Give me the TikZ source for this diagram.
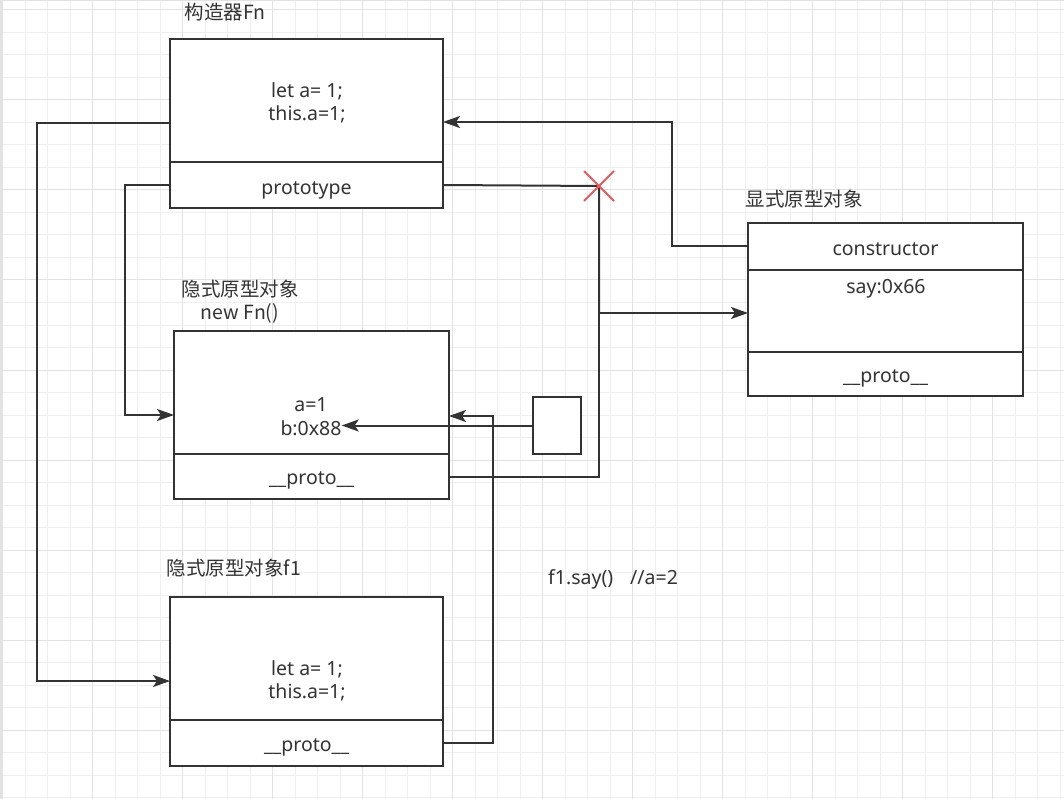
\documentclass[tikz,border=0pt]{standalone}
\usepackage{fontspec}
\setmainfont{Noto Sans}
\newfontfamily\cjk{Noto Sans CJK SC}
\usetikzlibrary{arrows.meta}
\definecolor{linec}{HTML}{333333}
\definecolor{gminorc}{HTML}{EFEFEF}
\definecolor{gmajorc}{HTML}{E2E2E2}
\definecolor{redx}{HTML}{EA5A5A}
\begin{document}
\begin{tikzpicture}[x=1pt,y=-1pt,
  cell/.style={draw=linec, line width=2pt, inner sep=0pt, outer sep=0pt, anchor=north west, fill=white},
  txt/.style={text=linec, inner sep=0pt, font=\fontsize{19.5pt}{23pt}\selectfont, align=center},
  ctxt/.style={txt, font=\cjk\fontsize{19.5pt}{23pt}\selectfont},
  conn/.style={draw=linec, line width=2pt},
  arr/.style={conn, -{Stealth[length=17pt,width=12pt,inset=4pt]}},
  gminor/.style={draw=gminorc, line width=1pt},
  gmajor/.style={draw=gmajorc, line width=1pt}]
\useasboundingbox (0,0) rectangle (1064,799);
\fill[white] (0,0) rectangle (1064,799);
% grid
\foreach \i in {0,...,47} \draw[gminor] ({2.7+22.5*\i},0) -- ({2.7+22.5*\i},799);
\foreach \j in {0,...,35} \draw[gminor] (0,{10+22.5*\j}) -- (1064,{10+22.5*\j});
\foreach \i in {0,...,11} \draw[gmajor] ({2.7+90*\i},0) -- ({2.7+90*\i},799);
\foreach \j in {0,...,8} \draw[gmajor] (0,{10+90*\j}) -- (1064,{10+90*\j});
\draw[gmajorc, line width=3pt] (0,0) -- (1064,0);
\draw[gmajorc, line width=3pt] (0,0) -- (0,799);

% constructor Fn box
\node[cell, minimum width=273pt, minimum height=123pt] (fnbody) at (170,39) {};
\node[cell, minimum width=273pt, minimum height=46pt] (fnproto) at (170,162) {};
\node[txt] (fntext) at (307,102.5) {let a= 1;\\this.a=1;};
\node[txt] (fnprotot) at ([yshift=-5pt]fnproto.center) {prototype};
\node[ctxt] (fnlabel) at (225,12) {构造器Fn};

% new Fn() box
\node[cell, minimum width=275pt, minimum height=123pt] (nbody) at (174,331) {};
\node[cell, minimum width=275pt, minimum height=45pt] (nproto) at (174,454) {};
\node[txt] (aval) at (311,405) {a=1};
\node[txt] (bval) at (311,428) {b:0x88};
\node[txt] (nprotot) at ([yshift=-4pt]nproto.center) {\_\_proto\_\_};
\node[ctxt] (nlabel) at (240,302) {隐式原型对象\\new Fn()};

% f1 box
\node[cell, minimum width=273pt, minimum height=123pt] (f1body) at (170,597) {};
\node[cell, minimum width=273pt, minimum height=46pt] (f1proto) at (170,720) {};
\node[txt] (f1text) at (307,680.5) {let a= 1;\\this.a=1;};
\node[txt] (f1protot) at ([yshift=-4pt]f1proto.center) {\_\_proto\_\_};
\node[ctxt] (f1label) at (234,568) {隐式原型对象f1};

% explicit prototype box
\node[cell, minimum width=275pt, minimum height=47pt] (rcons) at (748,223) {};
\node[cell, minimum width=275pt, minimum height=82pt] (rmid) at (748,270) {};
\node[cell, minimum width=275pt, minimum height=44pt] (rproto) at (748,352) {};
\node[txt] (rconst) at ([yshift=-3pt]rcons.center) {constructor};
\node[txt] (rsay) at (886,289) {say:0x66};
\node[txt] (rprotot) at ([yshift=-4pt]rproto.center) {\_\_proto\_\_};
\node[ctxt] (rlabel) at (804,199) {显式原型对象};

% small square
\node[cell, minimum width=48pt, minimum height=57pt] (sq) at (533,397) {};

% free text
\node[txt, anchor=west] (call) at (548,579) {f1.say()\hspace{17pt}//a=2};

% coordinates
\coordinate (xmark) at (599,186);
\coordinate (junc) at (599,313);

% connectors
\draw[arr] ([yshift=-22.5pt]fnbody.west) -- ++(-133,0) |- ([yshift=-22.5pt]f1body.west);
\draw[arr] (fnproto.west) -- ++(-45,0) |- ([yshift=-22.5pt]nbody.west);
\draw[conn] (fnproto.east) -- (xmark) -- (junc);
\draw[arr] (nproto.east) -| (junc) -- (junc -| rmid.west);
\draw[arr] (rcons.west) -- ++(-76,0) |- ([yshift=-21.5pt]fnbody.east);
\draw[arr] (f1proto.east) -- ++(50,0) |- ([yshift=-23.5pt]nbody.east);
\draw[arr] (sq.west) -- (sq.west -| bval.east);

% red cross
\draw[redx, line width=2pt] ([shift={(-15,-15)}]xmark) -- ([shift={(15,15)}]xmark);
\draw[redx, line width=2pt] ([shift={(-15,15)}]xmark) -- ([shift={(15,-15)}]xmark);
\end{tikzpicture}
\end{document}
